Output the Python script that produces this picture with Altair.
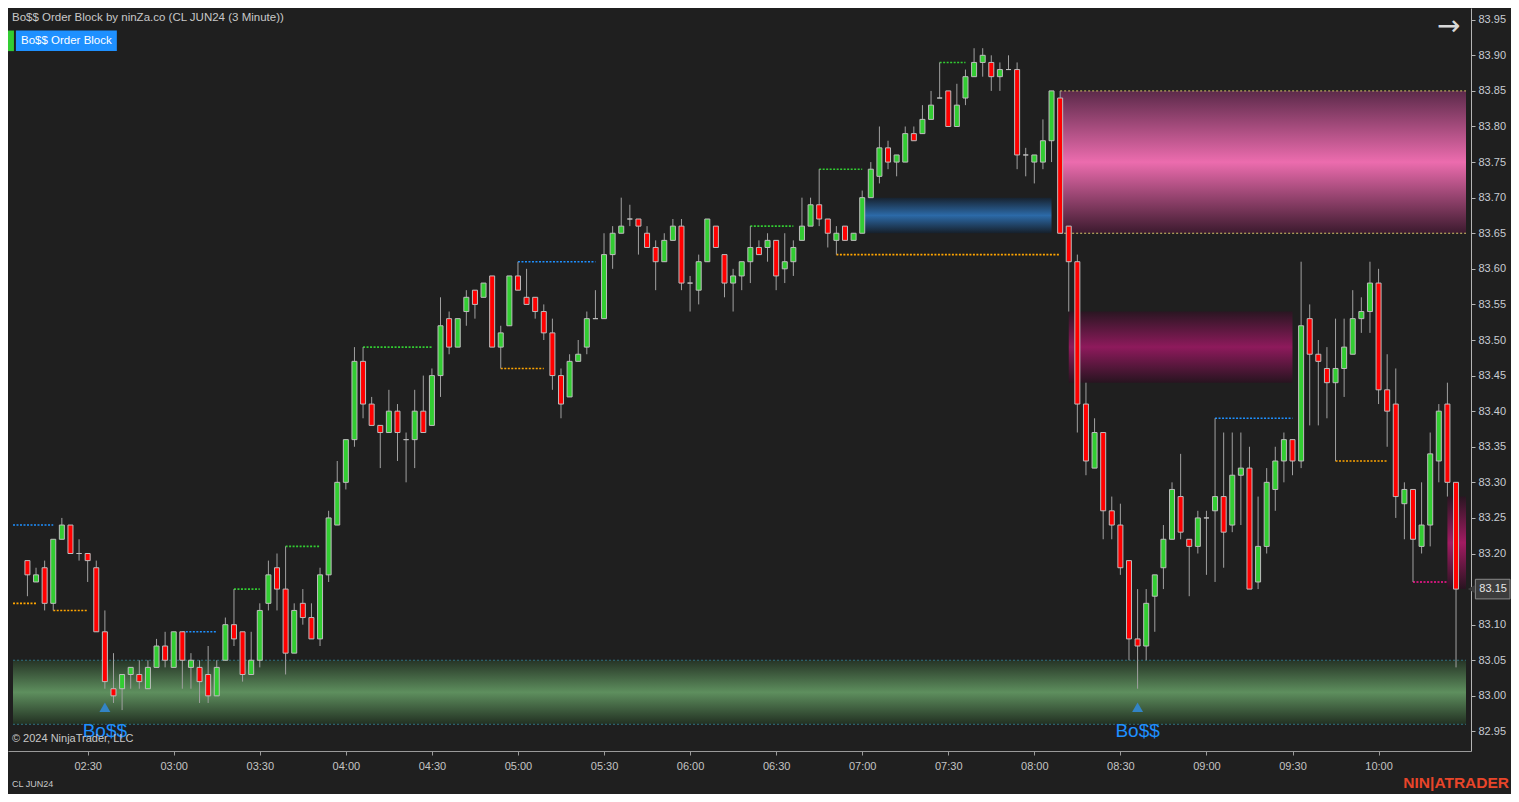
import altair as alt
import pandas as pd

# ---------------- data ----------------
first_bar = "02:09"          # time of the first 3-minute bar
bar_minutes = 3
opens = [83.19, 83.16, 83.18, 83.13, 83.22, 83.24, 83.20, 83.20, 83.18, 83.09,
         83.01, 83.01, 83.03, 83.03, 83.01, 83.04, 83.07, 83.04, 83.09, 83.04,
         83.04, 83.03, 83.00, 83.05, 83.10, 83.09, 83.03, 83.05, 83.13, 83.18,
         83.15, 83.06, 83.13, 83.11, 83.08, 83.17, 83.24, 83.30, 83.36, 83.47,
         83.41, 83.38, 83.37, 83.40, 83.36, 83.36, 83.40, 83.38, 83.45, 83.53,
         83.49, 83.54, 83.57, 83.56, 83.59, 83.49, 83.52, 83.59, 83.56, 83.56,
         83.54, 83.51, 83.45, 83.42, 83.47, 83.49, 83.53, 83.53, 83.62, 83.65,
         83.67, 83.67, 83.65, 83.63, 83.61, 83.64, 83.66, 83.58, 83.57, 83.61,
         83.66, 83.62, 83.58, 83.59, 83.61, 83.63, 83.63, 83.64, 83.60, 83.61,
         83.64, 83.66, 83.69, 83.67, 83.64, 83.66, 83.64, 83.65, 83.70, 83.73,
         83.77, 83.75, 83.75, 83.79, 83.79, 83.81, 83.84, 83.85, 83.80, 83.84,
         83.87, 83.89, 83.89, 83.87, 83.88, 83.88, 83.76, 83.75, 83.75, 83.78,
         83.84, 83.66, 83.61, 83.41, 83.32, 83.37, 83.26, 83.24, 83.19, 83.08,
         83.07, 83.14, 83.18, 83.22, 83.28, 83.22, 83.21, 83.25, 83.26, 83.28,
         83.24, 83.31, 83.32, 83.16, 83.21, 83.29, 83.33, 83.36, 83.33, 83.53,
         83.48, 83.46, 83.44, 83.46, 83.48, 83.53, 83.54, 83.58, 83.43, 83.41,
         83.27, 83.29, 83.21, 83.24, 83.33, 83.41, 83.30]
highs = [83.19, 83.18, 83.19, 83.22, 83.25, 83.24, 83.22, 83.20, 83.19, 83.12,
         83.06, 83.03, 83.04, 83.05, 83.05, 83.08, 83.09, 83.09, 83.09, 83.06,
         83.05, 83.07, 83.05, 83.11, 83.15, 83.09, 83.09, 83.13, 83.19, 83.20,
         83.21, 83.13, 83.15, 83.13, 83.18, 83.26, 83.33, 83.36, 83.49, 83.49,
         83.42, 83.38, 83.43, 83.41, 83.37, 83.43, 83.45, 83.46, 83.56, 83.54,
         83.53, 83.57, 83.57, 83.58, 83.59, 83.52, 83.59, 83.61, 83.60, 83.56,
         83.55, 83.53, 83.46, 83.48, 83.50, 83.54, 83.57, 83.65, 83.66, 83.70,
         83.69, 83.67, 83.66, 83.64, 83.65, 83.67, 83.67, 83.59, 83.62, 83.67,
         83.66, 83.62, 83.60, 83.61, 83.66, 83.64, 83.65, 83.64, 83.65, 83.64,
         83.70, 83.70, 83.74, 83.67, 83.66, 83.66, 83.65, 83.71, 83.75, 83.80,
         83.78, 83.76, 83.80, 83.80, 83.83, 83.85, 83.89, 83.85, 83.86, 83.88,
         83.91, 83.91, 83.90, 83.89, 83.90, 83.89, 83.77, 83.76, 83.81, 83.85,
         83.85, 83.66, 83.62, 83.44, 83.39, 83.37, 83.28, 83.27, 83.19, 83.15,
         83.15, 83.17, 83.24, 83.30, 83.34, 83.22, 83.26, 83.26, 83.39, 83.37,
         83.37, 83.37, 83.35, 83.28, 83.32, 83.35, 83.37, 83.36, 83.61, 83.55,
         83.50, 83.49, 83.53, 83.53, 83.57, 83.56, 83.61, 83.60, 83.48, 83.46,
         83.30, 83.29, 83.30, 83.37, 83.41, 83.44, 83.30]
lows = [83.14, 83.16, 83.12, 83.12, 83.22, 83.20, 83.19, 83.16, 83.09, 83.01,
        82.99, 82.98, 83.01, 83.01, 83.01, 83.04, 83.04, 83.04, 83.01, 83.01,
        82.99, 82.99, 83.00, 83.05, 83.07, 83.02, 83.03, 83.04, 83.12, 83.12,
        83.03, 83.06, 83.10, 83.08, 83.07, 83.16, 83.24, 83.29, 83.35, 83.39,
        83.38, 83.32, 83.37, 83.33, 83.30, 83.32, 83.37, 83.38, 83.42, 83.48,
        83.49, 83.52, 83.53, 83.56, 83.49, 83.46, 83.52, 83.57, 83.55, 83.53,
        83.50, 83.43, 83.39, 83.42, 83.47, 83.48, 83.53, 83.53, 83.60, 83.65,
        83.66, 83.62, 83.63, 83.57, 83.61, 83.64, 83.57, 83.54, 83.55, 83.61,
        83.63, 83.56, 83.54, 83.57, 83.58, 83.62, 83.61, 83.57, 83.58, 83.59,
        83.64, 83.66, 83.66, 83.63, 83.62, 83.64, 83.64, 83.65, 83.70, 83.72,
        83.74, 83.73, 83.75, 83.78, 83.79, 83.81, 83.84, 83.80, 83.80, 83.83,
        83.87, 83.87, 83.85, 83.85, 83.88, 83.74, 83.73, 83.72, 83.74, 83.75,
        83.65, 83.54, 83.37, 83.31, 83.32, 83.22, 83.22, 83.17, 83.05, 83.01,
        83.05, 83.09, 83.15, 83.22, 83.22, 83.14, 83.20, 83.17, 83.16, 83.18,
        83.23, 83.24, 83.15, 83.15, 83.20, 83.26, 83.30, 83.31, 83.32, 83.38,
        83.38, 83.39, 83.33, 83.42, 83.48, 83.51, 83.51, 83.41, 83.35, 83.25,
        83.22, 83.16, 83.20, 83.21, 83.30, 83.28, 83.04]
closes = [83.17, 83.17, 83.13, 83.22, 83.24, 83.20, 83.20, 83.19, 83.09, 83.02,
          83.00, 83.03, 83.04, 83.02, 83.04, 83.07, 83.05, 83.09, 83.05, 83.05,
          83.02, 83.00, 83.04, 83.10, 83.08, 83.03, 83.05, 83.12, 83.17, 83.15,
          83.06, 83.12, 83.11, 83.08, 83.17, 83.25, 83.30, 83.36, 83.47, 83.41,
          83.38, 83.37, 83.40, 83.37, 83.36, 83.40, 83.37, 83.45, 83.52, 83.49,
          83.53, 83.56, 83.55, 83.58, 83.49, 83.51, 83.59, 83.57, 83.55, 83.54,
          83.51, 83.45, 83.41, 83.47, 83.48, 83.53, 83.53, 83.62, 83.65, 83.66,
          83.67, 83.66, 83.63, 83.61, 83.64, 83.66, 83.58, 83.58, 83.61, 83.67,
          83.63, 83.58, 83.59, 83.61, 83.63, 83.62, 83.64, 83.59, 83.61, 83.63,
          83.66, 83.69, 83.67, 83.65, 83.65, 83.64, 83.65, 83.70, 83.74, 83.77,
          83.75, 83.76, 83.79, 83.78, 83.81, 83.83, 83.84, 83.80, 83.83, 83.87,
          83.89, 83.90, 83.87, 83.88, 83.88, 83.76, 83.76, 83.76, 83.78, 83.85,
          83.65, 83.61, 83.41, 83.33, 83.37, 83.26, 83.24, 83.18, 83.08, 83.07,
          83.13, 83.17, 83.22, 83.29, 83.23, 83.21, 83.25, 83.25, 83.28, 83.23,
          83.31, 83.32, 83.15, 83.21, 83.30, 83.33, 83.36, 83.33, 83.52, 83.48,
          83.47, 83.44, 83.46, 83.49, 83.53, 83.54, 83.58, 83.43, 83.40, 83.28,
          83.29, 83.22, 83.24, 83.34, 83.40, 83.30, 83.15]

time_labels = ["02:30", "03:00", "03:30", "04:00", "04:30", "05:00", "05:30", "06:00",
               "06:30", "07:00", "07:30", "08:00", "08:30", "09:00", "09:30", "10:00"]
price_ticks = [82.95, 83.00, 83.05, 83.10, 83.15, 83.20, 83.25, 83.30, 83.35, 83.40,
               83.45, 83.50, 83.55, 83.60, 83.65, 83.70, 83.75, 83.80, 83.85, 83.90, 83.95]

# dotted swing levels: start bar, end bar ("L" = chart's left edge), price, colour
level_start = ["L", "L", "02:18", "03:03", "03:21", "03:39", "04:06", "04:54",
               "05:00", "06:21", "06:45", "06:51", "07:27", "09:03", "09:45", "10:12"]
level_end = ["02:18", "02:12", "02:30", "03:15", "03:30", "03:51", "04:30", "05:09",
             "05:27", "06:36", "07:00", "08:09", "07:36", "09:30", "10:03", "10:24"]
level_price = [83.24, 83.13, 83.12, 83.09, 83.15, 83.21, 83.49, 83.46,
               83.61, 83.66, 83.74, 83.62, 83.89, 83.39, 83.33, 83.16]
level_color = ["#1e90ff", "#ffa500", "#ffa500", "#1e90ff", "#32cd32", "#32cd32", "#32cd32",
               "#ffa500", "#1e90ff", "#32cd32", "#32cd32", "#ffa500", "#32cd32",
               "#1e90ff", "#ffa500", "#ff1493"]

# order-block zones ("R" = chart's right edge)
zone_start = ["L", "07:00", "08:09", "08:12", "10:24"]
zone_end = ["R", "08:06", "R", "09:30", "R"]
zone_top = [83.05, 83.70, 83.85, 83.54, 83.28]
zone_bottom = [82.96, 83.65, 83.65, 83.44, 83.15]
zone_colors = [["#263426", "#5e8f5e", "#223022"],
               ["#17222f", "#2c6aa8", "#16202b"],
               ["#5c2a4a", "#ec6cae", "#3c1a2e"],
               ["#2a1622", "#8e1a5c", "#281420"],
               ["#2a1622", "#a21b62", "#281420"]]

signal_times = ["02:36", "08:36"]
signal_marker_price = [82.984, 82.984]
signal_text_price = [82.950, 82.950]
signal_text = ["Bo$$", "Bo$$"]

# ---------------- layout ----------------
FONT = "Liberation Sans"
SX = 1503 / 1519
SY = 786 / 802
W = 1463
H = 743
X_DOM = [123.97, 630.48]
Y_DOM = [82.9225, 83.9665]
BG = "#1f1f1f"


def tmin(s):
    if s == "L":
        return X_DOM[0]
    if s == "R":
        return X_DOM[1]
    h, m = s.split(":")
    return int(h) * 60 + int(m)


def PX(v):
    return v * SX


def PY(v):
    return v * SY


t0 = tmin(first_bar)
bars = pd.DataFrame({
    "t": [t0 + bar_minutes * k for k in range(len(opens))],
    "o": opens, "h": highs, "l": lows, "c": closes,
})
bars["top"] = bars[["o", "c"]].max(axis=1)
bars["bot"] = bars[["o", "c"]].min(axis=1)
bars["fill"] = ["#32cd32" if c > o else ("#ff0000" if c < o else "#c0c0c0")
                for o, c in zip(opens, closes)]

xs = alt.Scale(domain=X_DOM, nice=False, zero=False)
ys = alt.Scale(domain=Y_DOM, nice=False, zero=False)

label_arr = "[" + ",".join("'" + s + "'" for s in time_labels) + "]"
x_axis = alt.Axis(
    values=[tmin(s) for s in time_labels],
    labelExpr=label_arr + "[round((datum.value - 150) / 30)]",
    title=None, orient="bottom", grid=False, tickSize=4, labelPadding=5,
    domainColor="#9a9a9a", tickColor="#9a9a9a", labelColor="#c4c4c4",
    labelFont=FONT, labelFontSize=11, labelFlush=False, labelOverlap=False,
)
y_axis = alt.Axis(
    values=price_ticks, format=".2f", title=None, orient="right", grid=False,
    tickSize=4, labelPadding=3, domainColor="#b4b4b4", tickColor="#b4b4b4",
    labelColor="#c8ccd2", labelFont=FONT, labelFontSize=11, labelFlush=False,
    labelOverlap=False,
)


def X(f):
    return alt.X(f, type="quantitative", scale=xs, axis=x_axis)


def Y(f):
    return alt.Y(f, type="quantitative", scale=ys, axis=y_axis)


layers = []

# zones with vertical gradients
for s, e, tp, bt, cols in zip(zone_start, zone_end, zone_top, zone_bottom, zone_colors):
    df = pd.DataFrame({"x1": [tmin(s)], "x2": [tmin(e)], "top": [tp], "bot": [bt]})
    grad = alt.Gradient(
        gradient="linear", x1=0, x2=0, y1=0, y2=1,
        stops=[alt.GradientStop(color=cols[0], offset=0),
               alt.GradientStop(color=cols[1], offset=0.5),
               alt.GradientStop(color=cols[2], offset=1)],
    )
    layers.append(alt.Chart(df).mark_rect(color=grad, clip=True).encode(
        x=X("x1"), x2=alt.X2("x2"), y=Y("top"), y2=alt.Y2("bot")))

# zone borders
gz = pd.DataFrame({"x1": [tmin(zone_start[0])] * 2, "x2": [tmin(zone_end[0])] * 2,
                   "p": [zone_top[0], zone_bottom[0]]})
layers.append(alt.Chart(gz).mark_rule(color="#2f7080", strokeDash=[2, 2], strokeWidth=1).encode(
    x=X("x1"), x2=alt.X2("x2"), y=Y("p")))
pz = pd.DataFrame({"x1": [tmin(zone_start[2])] * 2, "x2": [tmin(zone_end[2])] * 2,
                   "p": [zone_top[2], zone_bottom[2]]})
layers.append(alt.Chart(pz).mark_rule(color="#d8c86a", strokeDash=[2, 2], strokeWidth=1).encode(
    x=X("x1"), x2=alt.X2("x2"), y=Y("p")))

# dotted levels
lv = pd.DataFrame({"x1": [tmin(s) for s in level_start], "x2": [tmin(s) for s in level_end],
                   "p": level_price, "col": level_color})
layers.append(alt.Chart(lv).mark_rule(strokeDash=[2, 1.5], strokeWidth=1.6, clip=True).encode(
    x=X("x1"), x2=alt.X2("x2"), y=Y("p"), color=alt.Color("col:N", scale=None)))

# candles
layers.append(alt.Chart(bars).mark_rule(color="#a0a0a0", strokeWidth=1).encode(
    x=X("t"), y=Y("l"), y2=alt.Y2("h")))
layers.append(alt.Chart(bars).mark_bar(size=5, stroke="#bdbdbd", strokeWidth=1).encode(
    x=X("t"), y=Y("top"), y2=alt.Y2("bot"), fill=alt.Fill("fill:N", scale=None)))

# signals
sig = pd.DataFrame({"t": [tmin(s) for s in signal_times], "mp": signal_marker_price,
                    "tp": signal_text_price, "txt": signal_text})
layers.append(alt.Chart(sig).mark_point(shape="triangle-up", filled=True, size=120,
                                        color="#3384c6", opacity=1).encode(x=X("t"), y=Y("mp")))
layers.append(alt.Chart(sig).mark_text(fontSize=19, font=FONT, color="#1e90ff",
                                       baseline="middle", align="center").encode(
    x=X("t"), y=Y("tp"), text="txt:N"))

# current price label
last = pd.DataFrame({"c": [closes[-1]], "top": [closes[-1] + 0.0138], "bot": [closes[-1] - 0.0138],
                     "lab": [f"{closes[-1]:.2f}"]})
layers.append(alt.Chart(last).mark_rect(fill="#3c3c3c", stroke="#8a8a8a", strokeWidth=1).encode(
    x=alt.value(PX(1483)), x2=alt.value(PX(1518)), y=Y("top"), y2=alt.Y2("bot")))
layers.append(alt.Chart(last).mark_point(shape="triangle-left", filled=True, size=70,
                                         color="#3c3c3c", opacity=1).encode(
    x=alt.value(PX(1479)), y=Y("c")))
layers.append(alt.Chart(last).mark_text(fontSize=11, font=FONT, color="#e6e6e6",
                                        align="left", baseline="middle").encode(
    x=alt.value(PX(1487)), y=Y("c"), text="lab:N"))

# static annotations
one = pd.DataFrame({"a": [0]})


def txt(s, x, y, size, color, align="left", weight="normal", font=FONT):
    return alt.Chart(one).mark_text(text=s, fontSize=size, font=font, color=color,
                                    align=align, baseline="middle", fontWeight=weight).encode(
        x=alt.value(PX(x)), y=alt.value(PY(y)))


def box(x1, x2, y1, y2, fill):
    return alt.Chart(one).mark_rect(fill=fill).encode(
        x=alt.value(PX(x1)), x2=alt.value(PX(x2)), y=alt.value(PY(y1)), y2=alt.value(PY(y2)))


layers.append(txt("Bo$$ Order Block by ninZa.co (CL JUN24 (3 Minute))", 4, 10, 11.5, "#c8c8c8"))
layers.append(box(0, 6, 23, 44, "#32cd32"))
layers.append(box(8, 110, 23, 44, "#1e90ff"))
layers.append(txt("Bo$$ Order Block", 59, 34, 11.5, "#ffffff", align="center"))
layers.append(txt("© 2024 NinjaTrader, LLC", 4, 746, 11, "#c8c8c8"))
layers.append(txt("CL JUN24", 4, 792, 9, "#c8c8c8"))
layers.append(txt("NIN|ATRADER", 1517, 791, 15.5, "#e8452a", align="right", weight="bold"))
layers.append(txt("→", 1456, 19, 28, "#d8d8d8", align="center", font="DejaVu Sans"))

chart = alt.layer(*layers).properties(
    width=W, height=H, background=BG,
    padding={"left": 0, "top": 0, "right": 1503 - W, "bottom": 786 - H},
    autosize=alt.AutoSizeParams(type="none"),
).configure_view(stroke=None)

chart.save("out.html", embed_options={"renderer": "svg", "actions": False})
